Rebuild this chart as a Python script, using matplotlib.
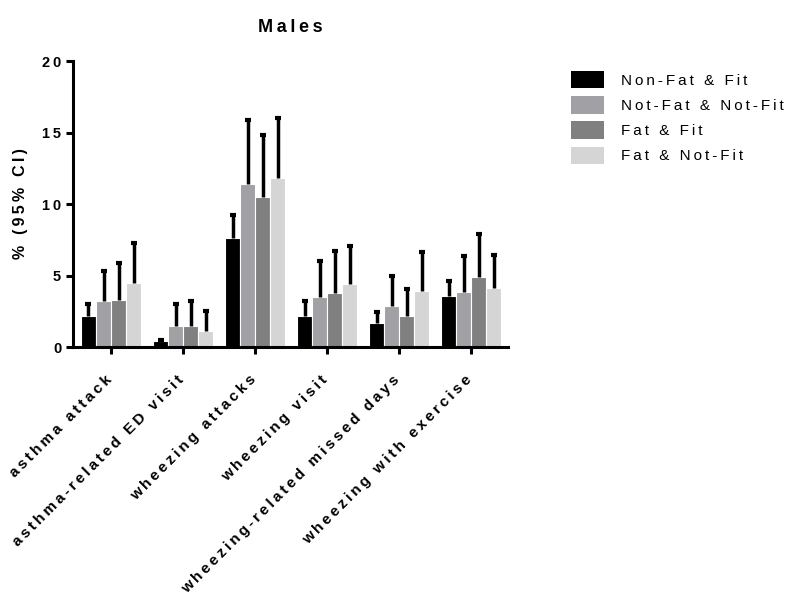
import matplotlib
matplotlib.use("Agg")
import matplotlib.pyplot as plt
import matplotlib.transforms as mtransforms
from matplotlib.patches import Patch
import numpy as np

categories = ["asthma attack", "asthma-related ED visit", "wheezing attacks",
              "wheezing visit", "wheezing-related missed days", "wheezing with exercise"]
series_names = ["Non-Fat & Fit", "Not-Fat & Not-Fit", "Fat & Fit", "Fat & Not-Fit"]
values = [
    [2.2, 0.4, 7.6, 2.15, 1.67, 3.6],
    [3.2, 1.5, 11.4, 3.5, 2.9, 3.88],
    [3.3, 1.5, 10.5, 3.8, 2.16, 4.93],
    [4.5, 1.1, 11.8, 4.4, 3.9, 4.16],
]
upper_ci = [
    [3.0, 0.47, 9.2, 3.2, 2.45, 4.65],
    [5.3, 3.0, 15.9, 6.0, 5.0, 6.4],
    [5.9, 3.2, 14.8, 6.75, 4.07, 7.9],
    [7.25, 2.5, 16.0, 7.05, 6.67, 6.47],
]
colors = ["#000000", "#a0a0a5", "#808080", "#d5d5d5"]
yticks = [0, 5, 10, 15, 20]

plt.rcParams['font.family'] = ['Liberation Sans', 'DejaVu Sans']


def sp(s):
    return "\u2009".join(s)


fig = plt.figure(figsize=(7.98, 5.99), dpi=100)
ax = fig.add_axes([0.0915, 0.4207, 0.545, 0.4773])

x = np.arange(len(categories))
w = 0.21
offsets = [-1.5, -0.5, 0.5, 1.5]
for i in range(4):
    v = np.array(values[i])
    u = np.array(upper_ci[i])
    xs = x + offsets[i] * w
    ax.bar(xs, v, width=w, color=colors[i], edgecolor="white", linewidth=0.8,
           label=series_names[i], zorder=2)
    ax.vlines(xs, v, u, color="black", linewidth=2.5, zorder=3)
    ax.plot(xs, u, linestyle="none", marker="_", markersize=5, markeredgewidth=3,
            color="black", zorder=3)

ax.set_xlim(-0.53, 5.51)
ax.set_ylim(0, 20)
ax.set_yticks(yticks)
ax.set_yticklabels([sp(str(t)) for t in yticks], fontweight="bold", fontsize=10.5)
ax.set_xticks(x)
ax.spines["top"].set_visible(False)
ax.spines["right"].set_visible(False)
ax.spines["left"].set_linewidth(2.2)
ax.spines["bottom"].set_linewidth(2.2)
ax.tick_params(axis="both", width=2.2, length=5, direction="out")
ax.tick_params(axis="x", pad=12)
ax.set_xticklabels([sp(c) for c in categories], rotation=45, ha="right",
                   rotation_mode="anchor", fontweight="bold", fontsize=11)
shift = mtransforms.ScaledTranslation(-0.065, -0.02, fig.dpi_scale_trans)
for lbl in ax.get_xticklabels():
    lbl.set_transform(lbl.get_transform() + shift)
ax.set_ylabel(sp("% (95% CI)"), fontweight="bold", fontsize=11.5, labelpad=10)
ax.set_title(sp("Males"), fontweight="bold", fontsize=13, pad=21)

handles = [Patch(facecolor=colors[i], edgecolor="none") for i in range(4)]
leg = fig.legend(handles, [sp(s) for s in series_names], loc="upper left",
                 bbox_to_anchor=(0.698, 0.905), frameon=False,
                 fontsize=11, handlelength=2.2, handleheight=1.4, labelspacing=0.5,
                 handletextpad=1.1)

fig.savefig("out.png", dpi=100)
